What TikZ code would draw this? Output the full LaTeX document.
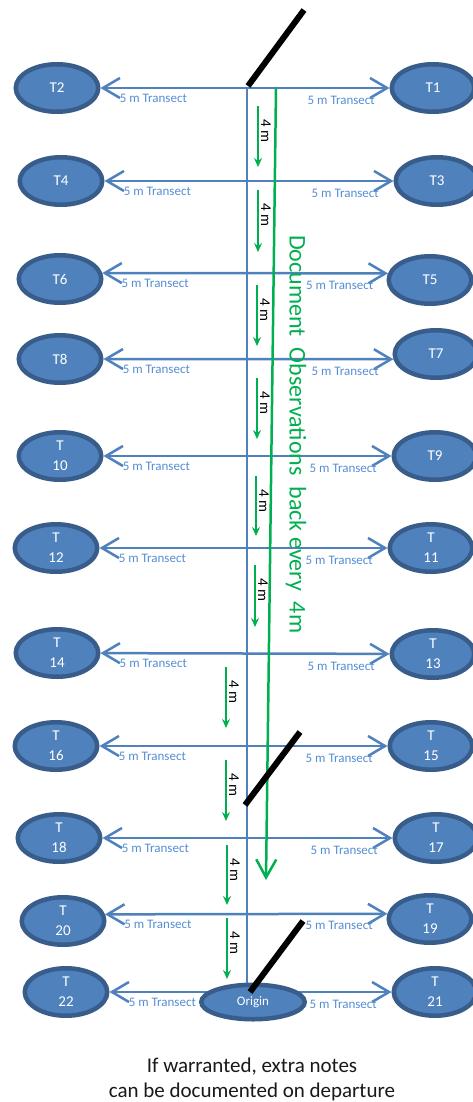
\documentclass[tikz,border=0pt]{standalone}
\usepackage{fontspec}
\setmainfont{Carlito}
\usetikzlibrary{shapes.geometric,arrows.meta}

\definecolor{ellfill}{HTML}{4F81BD}
\definecolor{ellborder}{HTML}{385D8A}
\definecolor{tblue}{HTML}{4F81BD}
\definecolor{tlight}{HTML}{558ED5}
\definecolor{docgreen}{HTML}{00B050}

\tikzset{
  tnode/.style={ellipse, draw=ellborder, fill=ellfill, line width=4.5pt,
    minimum width=82.5pt, minimum height=47.5pt, inner sep=0pt, text=white,
    font=\fontsize{15}{20}\selectfont, align=center},
  onode/.style={tnode, minimum width=103.5pt, minimum height=34.5pt,
    font=\fontsize{13}{15}\selectfont},
  tarrow/.style={draw=tblue, line width=2.5pt,
    {Straight Barb[length=17pt,width=20pt]}-{Straight Barb[length=17pt,width=20pt]}},
  tlab/.style={text=tlight, font=\fontsize{13}{15}\selectfont, inner sep=0pt},
  lefttag/.style={tlab, pos=0, anchor=west, xshift=18pt, yshift=-10.5pt},
  righttag/.style={tlab, pos=1, anchor=east, xshift=-13.5pt, yshift=-12pt},
  spine/.style={draw=tblue, line width=1.8pt},
  garrow/.style={draw=docgreen, line width=2pt,
    -{Stealth[length=9pt,width=8pt,inset=3pt]}},
  glab/.style={font=\fontsize{15}{18}\selectfont, rotate=-90, inner sep=0pt},
  bigarrow/.style={draw=docgreen, line width=2.5pt,
    -{Straight Barb[length=18pt,width=20pt]}},
  bigtext/.style={text=docgreen, font=\fontsize{24}{28}\selectfont,
    rotate=-90, inner sep=0pt, anchor=west},
  stake/.style={draw=black, line width=6pt, line cap=butt},
  notetext/.style={font=\fontsize{21}{25}\selectfont, align=center,
    inner sep=0pt, text=black!90},
}

\begin{document}
\begin{tikzpicture}[x=1pt,y=-1pt]
\useasboundingbox[fill=white] (0,0) rectangle (472,1102);

% transect end points
\node[tnode] (T2)  at (57,88)   {T2};
\node[tnode] (T1)  at (433,88)  {T1};
\node[tnode] (T4)  at (61,181)  {T4};
\node[tnode] (T3)  at (437,181) {T3};
\node[tnode] (T6)  at (60,279)  {T6};
\node[tnode] (T5)  at (430,280) {T5};
\node[tnode] (T8)  at (60,359)  {T8};
\node[tnode] (T7)  at (436,354) {T7};
\node[tnode] (T10) at (60,456)  {T\\10};
\node[tnode] (T9)  at (435,456) {T9};
\node[tnode] (T12) at (56,548)  {T\\12};
\node[tnode] (T11) at (431,548) {T\\11};
\node[tnode] (T14) at (57,653)  {T\\14};
\node[tnode] (T13) at (433,654) {T\\13};
\node[tnode] (T16) at (56,746)  {T\\16};
\node[tnode] (T15) at (431,746) {T\\15};
\node[tnode] (T18) at (59,838)  {T\\18};
\node[tnode] (T17) at (436,838) {T\\17};
\node[tnode] (T20) at (63,921)  {T\\20};
\node[tnode] (T19) at (430,919) {T\\19};
\node[tnode] (T22) at (66,992)  {T\\22};
\node[tnode] (T21) at (435,992) {T\\21};

% 5 m transects
\draw[tarrow] (T2) -- (T1)
  node[lefttag] {5 m Transect} node[righttag] {5 m Transect};
\draw[tarrow] (T4) -- (T3)
  node[lefttag] {5 m Transect} node[righttag] {5 m Transect};
\draw[tarrow] (T6.8) -- (T5.171)
  node[lefttag] {5 m Transect} node[righttag] {5 m Transect};
\draw[tarrow] (T8) -- (T7.187)
  node[lefttag] {5 m Transect} node[righttag] {5 m Transect};
\draw[tarrow] (T10) -- (T9)
  node[lefttag] {5 m Transect} node[righttag] {5 m Transect};
\draw[tarrow] (T12) -- (T11)
  node[lefttag] {5 m Transect} node[righttag] {5 m Transect};
\draw[tarrow] (T14) -- (T13)
  node[lefttag] {5 m Transect} node[righttag] {5 m Transect};
\draw[tarrow] (T16) -- (T15)
  node[lefttag] {5 m Transect} node[righttag] {5 m Transect};
\draw[tarrow] (T18) -- (T17)
  node[lefttag] {5 m Transect} node[righttag] {5 m Transect};
\draw[tarrow] (T20.9.5) -- (T19.173.3)
  node[lefttag] {5 m Transect} node[righttag] {5 m Transect};
\draw[tarrow] (T22) -- (T21)
  node[lefttag] {5 m Transect} node[righttag] {5 m Transect};

% origin and the main line
\node[onode] (Origin) at (253,1002) {Origin};
\coordinate (top) at (247,88);
\draw[spine] (top) -- (top |- Origin.north);

% observation steps every 4 m
\foreach \i/\x/\a/\b in {1/258/106/167, 2/258/190/252, 3/257/285/346,
    4/257/378/439, 5/256/476/536, 6/255/565/627, 7/226/667/728,
    8/226/760/821, 9/227/845/905, 10/227/918/979} {
  \coordinate (gs\i) at (\x,\a);
  \coordinate (ge\i) at (\x,\b);
  \draw[garrow] (gs\i) -- (ge\i);
  \node[glab] (gl\i) at ([xshift=8pt,yshift=-25pt]gs\i) {4 m};
}

% return walk
\coordinate (gtop) at (276,88);
\coordinate (gend) at (266,880);
\draw[bigarrow] (gtop) -- (gend);
\node[bigtext] (doc) at (296,235)
  {Document\ \ Observations\ \ back every\ \ 4m};

% stakes
\coordinate (s1a) at (248,86);  \coordinate (s1b) at (304,10);
\coordinate (s2a) at (245,805); \coordinate (s2b) at (300,732);
\coordinate (s3a) at (250,992); \coordinate (s3b) at (303,921);
\draw[stake] (s1a) -- (s1b);
\draw[stake] (s2a) -- (s2b);
\draw[stake] (s3a) -- (s3b);

% note
\node[notetext] (note) at (252,1079)
  {If warranted, extra notes\\can be documented on departure};
\end{tikzpicture}
\end{document}
